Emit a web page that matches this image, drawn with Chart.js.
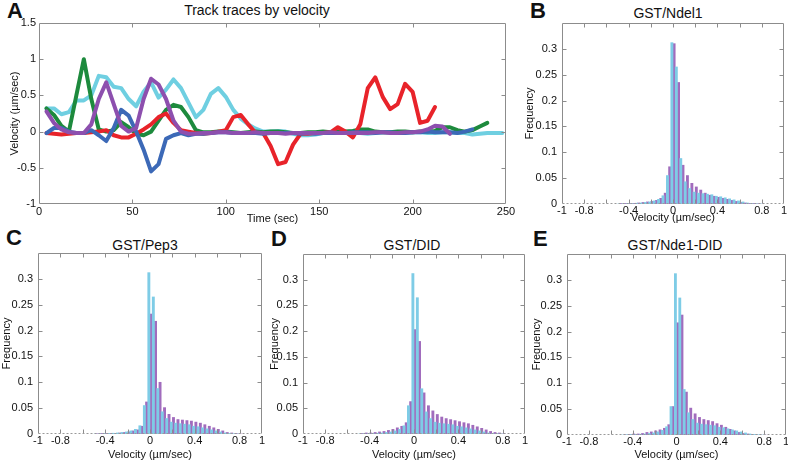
<!DOCTYPE html>
<html>
<head>
<meta charset="utf-8">
<script src="https://cdn.jsdelivr.net/npm/chart.js@4.4.1/dist/chart.umd.min.js"></script>
<style>
    body { margin: 0; background: #fff; width: 788px; height: 461px; overflow: hidden; position: relative;
           font-family: "Liberation Sans", Arial, sans-serif; color: #111; }
    canvas { position: absolute; }
    .letter { position: absolute; font-size: 22px; line-height: 22px; font-weight: bold; }
    .ttl { position: absolute; font-size: 14px; line-height: 14px; transform: translate(-50%, -50%); white-space: nowrap; }
</style>
</head>
<body>
<div class="letter" style="left:7px;top:0px">A</div>
<div class="letter" style="left:530px;top:0px">B</div>
<div class="letter" style="left:6px;top:227px">C</div>
<div class="letter" style="left:271px;top:228px">D</div>
<div class="letter" style="left:533px;top:228px">E</div>

<div class="ttl" style="left:257px;top:10px">Track traces by velocity</div>
<div class="ttl" style="left:668px;top:13px">GST/Ndel1</div>
<div class="ttl" style="left:145px;top:245px">GST/Pep3</div>
<div class="ttl" style="left:412px;top:245px">GST/DID</div>
<div class="ttl" style="left:675px;top:245px">GST/Nde1-DID</div>

<canvas id="traceChart" width="520" height="230" style="left:0;top:0"></canvas>
<canvas id="histB" width="268" height="230" style="left:520px;top:0"></canvas>
<canvas id="histC" width="265" height="235" style="left:0;top:228px"></canvas>
<canvas id="histD" width="265" height="235" style="left:265px;top:228px"></canvas>
<canvas id="histE" width="260" height="235" style="left:530px;top:228px"></canvas>

<script>
// Panel A: track traces (time in sec, velocity in um/sec)
const times = [4, 8, 12, 16, 20, 24, 28, 32, 36, 40, 44, 48, 52, 56, 60, 64, 68, 72, 76, 80,
    84, 88, 92, 96, 100, 104, 108, 112, 116, 120, 124, 128, 132, 136, 140, 144, 148, 152, 156, 160,
    164, 168, 172, 176, 180, 184, 188, 192, 196, 200, 204, 208, 212, 216, 220, 224, 228, 232, 236, 240,
    244, 248];

const traceRed = [-0.02, -0.03, -0.04, -0.03, -0.02, -0.02, -0.01, 0.0, 0.02, -0.05,
    -0.08, -0.08, -0.03, 0.03, 0.1, 0.2, 0.25, 0.12, 0.02, 0.0,
    -0.02, -0.03, -0.02, 0.0, 0.02, 0.2, 0.23, 0.1, -0.02, -0.02,
    -0.2, -0.45, -0.42, -0.18, -0.03, -0.03, -0.02, -0.02, -0.01, 0.06,
    0.0, -0.08, 0.1, 0.6, 0.75, 0.48, 0.31, 0.38, 0.66, 0.55,
    0.12, 0.15, 0.34];

const traceGreen = [0.32, 0.23, 0.08, 0.0, 0.5, 1.0, 0.45, 0.03, 0.0, 0.02,
    0.13, 0.06, -0.03, -0.05, 0.0, 0.15, 0.3, 0.37, 0.34, 0.2,
    0.02, -0.01, -0.01, 0.0, 0.0, -0.01, -0.02, -0.01, 0.0, -0.01,
    0.0, 0.0, -0.01, -0.02, -0.02, -0.01, -0.01, 0.0, -0.01, 0.0,
    0.0, 0.01, 0.03, 0.03, 0.0, -0.01, -0.01, 0.0, 0.0, -0.01,
    0.0, 0.0, 0.01, 0.06, 0.06, 0.02, 0.0, 0.02, 0.07, 0.12];

const traceCyan = [0.32, 0.32, 0.24, 0.27, 0.43, 0.43, 0.5, 0.77, 0.75, 0.62,
    0.6, 0.45, 0.35, 0.55, 0.68, 0.47, 0.58, 0.72, 0.6, 0.4,
    0.2, 0.3, 0.52, 0.6, 0.48, 0.3, 0.18, 0.1, 0.04, 0.0,
    0.0, 0.01, 0.0, -0.03, -0.05, -0.05, -0.04, -0.02, -0.02, -0.01,
    -0.01, 0.0, -0.02, -0.03, -0.02, -0.01, -0.01, -0.02, -0.02, -0.01,
    -0.01, -0.02, -0.02, -0.01, -0.01, -0.02, -0.02, -0.04, -0.03, -0.02,
    -0.02, -0.02];

const tracePurple = [0.28, 0.12, 0.03, -0.01, -0.02, -0.02, 0.1, 0.45, 0.68, 0.38,
    0.08, 0.0, 0.05, 0.45, 0.73, 0.65, 0.45, 0.15, 0.0, -0.03,
    -0.03, -0.02, -0.02, -0.01, -0.01, -0.02, -0.02, -0.02, -0.01, -0.02,
    -0.02, -0.02, -0.03, -0.02, -0.02, -0.02, -0.02, -0.02, -0.01, -0.02,
    -0.02, -0.02, -0.02, -0.02, -0.01, -0.01, -0.02, -0.02, -0.01, -0.01,
    0.0, 0.03, 0.08, 0.07, -0.03];

const traceBlue = [-0.02, 0.05, 0.05, 0.0, -0.02, -0.02, 0.02, -0.05, -0.13, 0.05,
    0.3, 0.22, 0.0, -0.25, -0.55, -0.45, -0.1, -0.05, -0.02, -0.05,
    -0.03, -0.03, -0.02, -0.01, -0.01, -0.02, -0.02, -0.02, -0.02, -0.03,
    -0.02, -0.02, -0.02, -0.02, -0.03, -0.02, -0.03, -0.02, -0.02, -0.02,
    -0.02, -0.01, -0.01, -0.01, -0.02, -0.01, -0.01, -0.02, -0.02, -0.01,
    -0.01, 0.0, -0.01, -0.01, -0.01, -0.02, 0.0, 0.03];

// Histograms: bin centers (um/sec) and frequencies
const binCenters = [-0.48, -0.44, -0.40, -0.36, -0.32, -0.28, -0.24, -0.20, -0.16, -0.12, -0.08, -0.04,
    0, 0.04, 0.08, 0.12, 0.16, 0.20, 0.24, 0.28, 0.32, 0.36, 0.40, 0.44, 0.48, 0.52, 0.56,
    0.60, 0.64, 0.68, 0.72, 0.76, 0.80];

const freqControl = [0.0, 0.0005, 0.001, 0.001, 0.0015, 0.002, 0.003, 0.004, 0.006, 0.009, 0.016, 0.055,
    0.312, 0.265, 0.088, 0.043, 0.030, 0.023, 0.021, 0.020, 0.019, 0.018, 0.015, 0.014, 0.012, 0.010, 0.008,
    0.006, 0.004, 0.002, 0.001, 0.0005, 0.0];

const freqNdel1 = [0.001, 0.001, 0.001, 0.001, 0.002, 0.003, 0.004, 0.005, 0.007, 0.011, 0.021, 0.072,
    0.310, 0.235, 0.075, 0.055, 0.040, 0.033, 0.027, 0.021, 0.017, 0.015, 0.013, 0.011, 0.009, 0.007, 0.005,
    0.003, 0.002, 0.001, 0.001, 0.0005, 0.0];

const freqPep3 = [0.0005, 0.001, 0.001, 0.001, 0.001, 0.002, 0.003, 0.004, 0.006, 0.008, 0.015, 0.062,
    0.232, 0.218, 0.100, 0.051, 0.038, 0.032, 0.028, 0.027, 0.026, 0.025, 0.023, 0.021, 0.018, 0.015, 0.012,
    0.009, 0.006, 0.003, 0.002, 0.001, 0.0];

const freqDID = [0.001, 0.002, 0.002, 0.003, 0.004, 0.005, 0.007, 0.009, 0.012, 0.015, 0.022, 0.063,
    0.203, 0.180, 0.080, 0.055, 0.045, 0.038, 0.033, 0.030, 0.028, 0.026, 0.024, 0.022, 0.020, 0.017, 0.014,
    0.011, 0.008, 0.005, 0.003, 0.002, 0.001];

const freqNde1DID = [0.0005, 0.001, 0.002, 0.002, 0.003, 0.005, 0.006, 0.008, 0.010, 0.013, 0.020, 0.055,
    0.217, 0.232, 0.083, 0.052, 0.041, 0.034, 0.030, 0.028, 0.026, 0.022, 0.019, 0.015, 0.011, 0.008, 0.005,
    0.003, 0.002, 0.001, 0.0005, 0.0, 0.0];

const histTickLabels = [-1, -0.8, -0.4, 0, 0.4, 0.8, 1];

Chart.defaults.font.family = '"Liberation Sans", Arial, sans-serif';
Chart.defaults.color = '#111';

// MATLAB style box with inward tick marks
const boxPlugin = {
    id: 'box',
    afterDraw(chart, args, opts) {
        const ctx = chart.ctx;
        const a = chart.chartArea;
        const l = Math.round(a.left) + 0.5, r = Math.round(a.right) - 0.5;
        const t = Math.round(a.top) + 0.5, b = Math.round(a.bottom) - 0.5;
        ctx.save();
        ctx.lineWidth = 1;
        ctx.strokeStyle = '#8c8c8c';
        ctx.beginPath();
        ctx.moveTo(l, b); ctx.lineTo(l, t); ctx.lineTo(r, t); ctx.lineTo(r, b);
        if (!opts.dashedBottom) ctx.lineTo(l, b);
        chart.scales.x.ticks.forEach(tk => {
            const px = Math.round(chart.scales.x.getPixelForValue(tk.value)) + 0.5;
            if (px < l + 2 || px > r - 2) return;
            ctx.moveTo(px, b); ctx.lineTo(px, b - 4);
            ctx.moveTo(px, t); ctx.lineTo(px, t + 4);
        });
        chart.scales.y.ticks.forEach(tk => {
            const py = Math.round(chart.scales.y.getPixelForValue(tk.value)) + 0.5;
            if (py < t + 2 || py > b - 2) return;
            ctx.moveTo(l, py); ctx.lineTo(l + 4, py);
            ctx.moveTo(r, py); ctx.lineTo(r - 4, py);
        });
        ctx.stroke();
        if (opts.dashedBottom) {
            ctx.strokeStyle = '#9a9a9a';
            ctx.setLineDash([2, 2]);
            ctx.beginPath();
            ctx.moveTo(l, b); ctx.lineTo(r, b);
            ctx.stroke();
        }
        ctx.restore();
    }
};

const tickFont = { size: 11 };
const titleFont = { size: 11 };

function toPoints(xs, ys) {
    return ys.map((y, i) => ({ x: xs[i], y: y }));
}

function initializeTraceChart() {
    const lineSet = (data, color) => ({
        data: toPoints(times, data),
        borderColor: color,
        borderWidth: 4,
        pointRadius: 0,
        tension: 0,
        borderJoinStyle: 'round',
        borderCapStyle: 'round'
    });
    new Chart(document.getElementById('traceChart'), {
        type: 'line',
        data: {
            datasets: [
                lineSet(tracePurple, '#8d4fae'),
                lineSet(traceBlue, '#3c69b7'),
                lineSet(traceRed, '#e8232a'),
                lineSet(traceGreen, '#1d8a3d'),
                lineSet(traceCyan, '#6fcfe1')
            ]
        },
        options: {
            responsive: false,
            devicePixelRatio: 1,
            animation: false,
            layout: { padding: { top: 23, right: 14, left: 0, bottom: 0 } },
            plugins: { legend: { display: false }, tooltip: { enabled: false }, box: { dashedBottom: false } },
            scales: {
                x: {
                    type: 'linear', min: 0, max: 250,
                    grid: { display: false, drawTicks: false },
                    border: { display: false },
                    ticks: { stepSize: 50, font: tickFont, padding: 1, maxRotation: 0, autoSkip: false },
                    title: { display: true, text: 'Time (sec)', font: titleFont, padding: { top: 0, bottom: 4.4 } },
                    afterFit: s => { s.height = 26; }
                },
                y: {
                    type: 'linear', min: -1, max: 1.5,
                    grid: { display: false, drawTicks: false },
                    border: { display: false },
                    ticks: { stepSize: 0.5, font: tickFont, padding: 3, callback: v => String(v) },
                    title: { display: true, text: 'Velocity (\u00b5m/sec)', font: titleFont, padding: { top: 8.7, bottom: 0 } },
                    afterFit: s => { s.width = 39; }
                }
            }
        },
        plugins: [boxPlugin]
    });
}

function initializeHistogram(id, magentaData, geo) {
    new Chart(document.getElementById(id), {
        type: 'bar',
        data: {
            datasets: [
                {
                    data: toPoints(binCenters, freqControl),
                    backgroundColor: '#7ecce6',
                    borderWidth: 0,
                    barPercentage: 1,
                    categoryPercentage: 1
                },
                {
                    data: toPoints(binCenters, magentaData),
                    backgroundColor: '#a16cbd',
                    borderWidth: 0,
                    barPercentage: 1,
                    categoryPercentage: 1
                }
            ]
        },
        options: {
            responsive: false,
            devicePixelRatio: 1,
            animation: false,
            layout: { padding: { top: geo.top, right: geo.right, left: 0, bottom: 0 } },
            plugins: { legend: { display: false }, tooltip: { enabled: false }, box: { dashedBottom: true } },
            scales: {
                x: {
                    type: 'linear', min: -1, max: 1, offset: false,
                    grid: { display: false, drawTicks: false, offset: false },
                    border: { display: false },
                    ticks: {
                        stepSize: 0.2, font: tickFont, padding: geo.xPad, maxRotation: 0, autoSkip: false,
                        callback: v => {
                            const r = Math.round(v * 10) / 10;
                            return histTickLabels.includes(r) ? String(r) : '';
                        }
                    },
                    title: { display: true, text: 'Velocity (\u00b5m/sec)', font: titleFont, padding: { top: 0, bottom: geo.xTitle } },
                    afterFit: s => { s.height = geo.xh; }
                },
                y: {
                    type: 'linear', min: 0, max: 0.35,
                    grid: { display: false, drawTicks: false },
                    border: { display: false },
                    ticks: {
                        stepSize: 0.05, font: tickFont, padding: 5,
                        callback: v => (v > 0.33 ? '' : String(Math.round(v * 100) / 100))
                    },
                    title: { display: true, text: 'Frequency', font: titleFont, padding: { top: geo.yTitle, bottom: 0 } },
                    afterFit: s => { s.width = geo.yw; }
                }
            }
        },
        plugins: [boxPlugin]
    });
}

document.addEventListener('DOMContentLoaded', function () {
    initializeTraceChart();
    initializeHistogram('histB', freqNdel1, { top: 23, right: 4, xh: 26, yw: 42, xPad: 0, xTitle: 5.4, yTitle: 3.4 });
    initializeHistogram('histC', freqPep3, { top: 25, right: 3, xh: 29, yw: 38, xPad: 0, xTitle: 1.4, yTitle: 0 });
    initializeHistogram('histD', freqDID, { top: 26, right: 5, xh: 29, yw: 38, xPad: 0, xTitle: 1.4, yTitle: 3.4 });
    initializeHistogram('histE', freqNde1DID, { top: 26, right: 4, xh: 28, yw: 37, xPad: 0, xTitle: 1.4, yTitle: 0 });
});
</script>
</body>
</html>
